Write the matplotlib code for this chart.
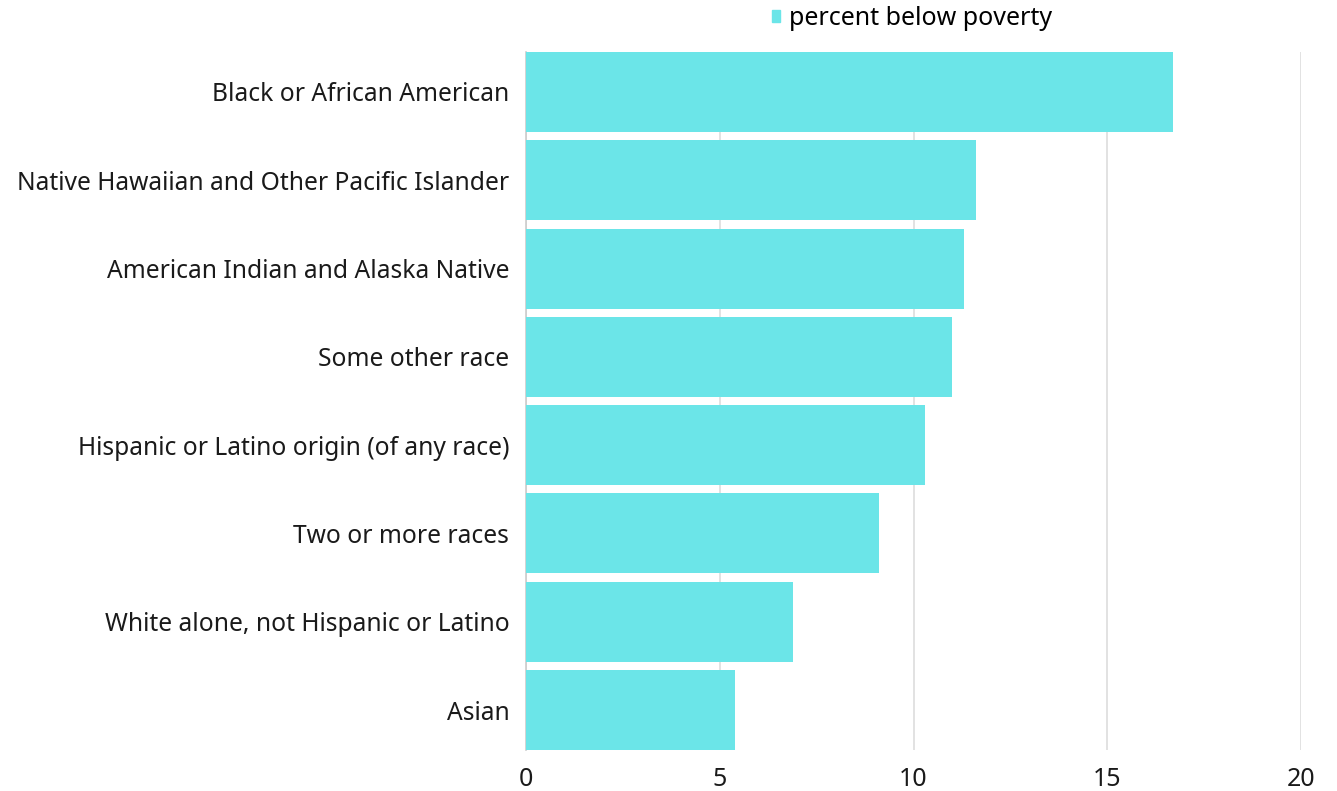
import matplotlib.pyplot as plt
from matplotlib.patches import Patch

plt.rcParams['font.family'] = ['Noto Sans', 'DejaVu Sans']

categorias = ['Black or African American', 'Native Hawaiian and Other Pacific Islander',
              'American Indian and Alaska Native', 'Some other race',
              'Hispanic or Latino origin (of any race)', 'Two or more races',
              'White alone, not Hispanic or Latino', 'Asian']
pobreza = [16.7, 11.6, 11.3, 11.0, 10.3, 9.1, 6.9, 5.4]
ticks_x = [0, 5, 10, 15, 20]
cor = '#6be5e8'

fig = plt.figure(figsize=(13.37, 7.91), dpi=100)
ax = fig.add_axes([0.3934, 0.0518, 0.5797, 0.8825])

y = list(range(len(categorias)))
ax.barh(y, pobreza, height=0.906, color=cor, zorder=3)
ax.set_ylim(len(categorias) - 0.547, -0.453)
ax.set_xlim(0, 20)
ax.set_yticks(y)
ax.set_yticklabels(categorias, fontsize=17.7, color='#1a1a1a')
ax.set_xticks(ticks_x)
ax.set_xticklabels([str(t) for t in ticks_x], fontsize=18, color='#1a1a1a')
ax.tick_params(axis='both', length=0)
ax.tick_params(axis='y', pad=12)
ax.tick_params(axis='x', pad=12)
ax.grid(axis='x', color='#dddddd', linewidth=1.2, zorder=0)
for lado in ['top', 'right', 'bottom']:
    ax.spines[lado].set_visible(False)
ax.spines['left'].set_color('#cccccc')
ax.spines['left'].set_linewidth(1.2)

fig.legend(handles=[Patch(color=cor, label='percent below poverty')],
           loc='center', bbox_to_anchor=(0.682, 0.977), frameon=False,
           fontsize=18, handlelength=0.35, handleheight=0.35, handletextpad=0.35)

fig.savefig('out.png', dpi=100)
